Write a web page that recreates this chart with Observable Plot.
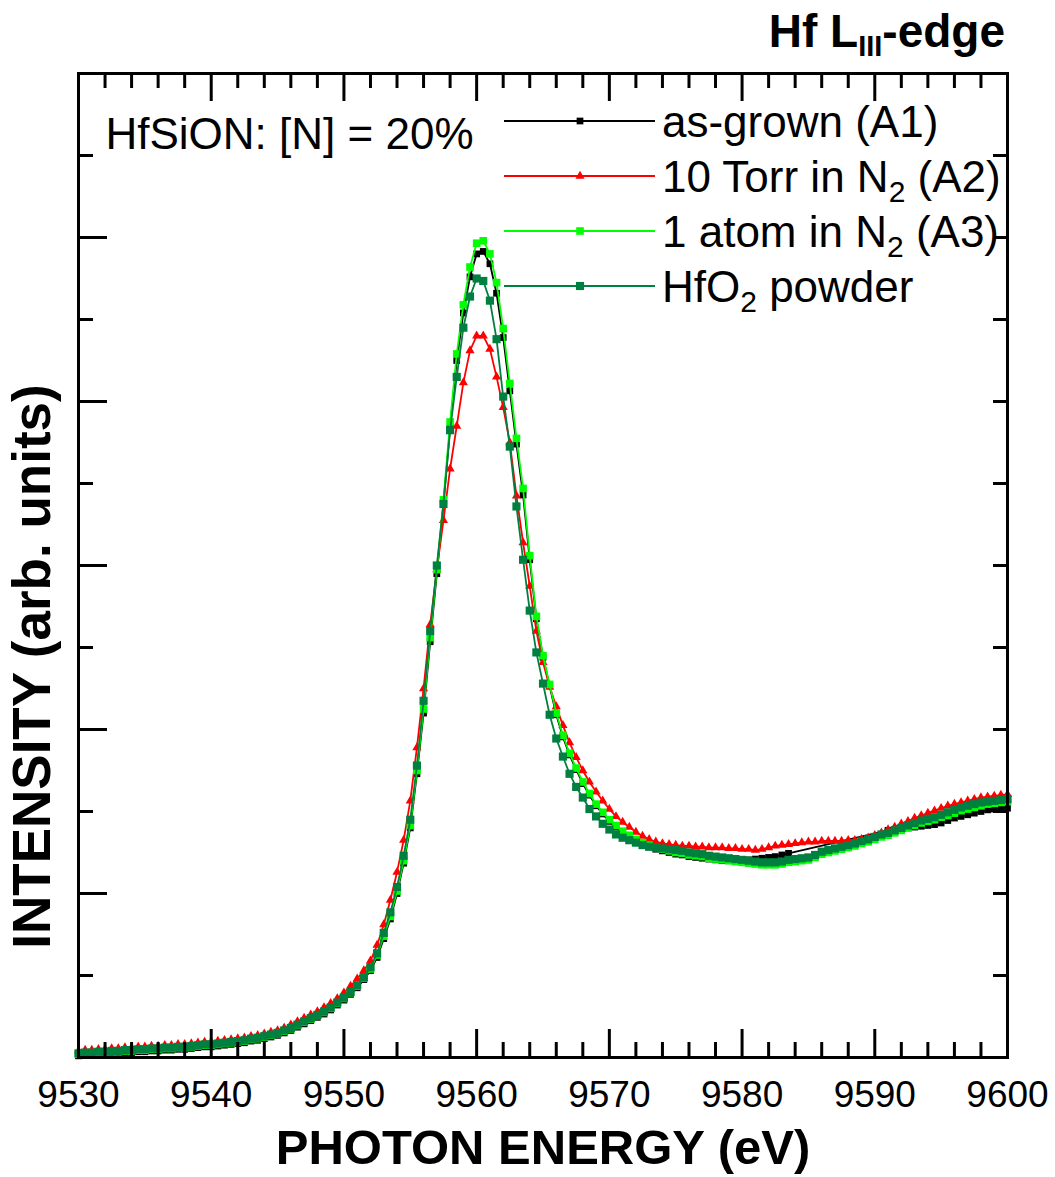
<!DOCTYPE html>
<html><head><meta charset="utf-8">
<script src="https://cdn.jsdelivr.net/npm/d3@7"></script>
<script src="https://cdn.jsdelivr.net/npm/@observablehq/plot@0.6"></script>
<style>body{margin:0;background:#fff}</style>
</head><body><div id="chart"></div>
<script>
// photon energy grid (eV)
const energy = [
9530,9530.5,9531,9531.5,9532,9532.5,9533,9533.5,9534,9534.5,
9535,9535.5,9536,9536.5,9537,9537.5,9538,9538.5,9539,9539.5,
9540,9540.5,9541,9541.5,9542,9542.5,9543,9543.5,9544,9544.5,
9545,9545.5,9546,9546.5,9547,9547.5,9548,9548.5,9549,9549.5,
9550,9550.5,9551,9551.5,9552,9552.5,9553,9553.5,9554,9554.5,
9555,9555.5,9556,9556.5,9557,9557.5,9558,9558.5,9559,9559.5,
9560,9560.5,9561,9561.5,9562,9562.5,9563,9563.5,9564,9564.5,
9565,9565.5,9566,9566.5,9567,9567.5,9568,9568.5,9569,9569.5,
9570,9570.5,9571,9571.5,9572,9572.5,9573,9573.5,9574,9574.5,
9575,9575.5,9576,9576.5,9577,9577.5,9578,9578.5,9579,9579.5,
9580,9580.5,9581,9581.5,9582,9582.5,9583,9583.5,9584,9584.5,
9585,9585.5,9586,9586.5,9587,9587.5,9588,9588.5,9589,9589.5,
9590,9590.5,9591,9591.5,9592,9592.5,9593,9593.5,9594,9594.5,
9595,9595.5,9596,9596.5,9597,9597.5,9598,9598.5,9599,9599.5,
9600];

// as-grown (A1)
const asGrown = [
.002,.003,.003,.004,.004,.005,.005,.006,.006,.007,
.007,.008,.008,.009,.009,.010,.010,.011,.012,.013,
.013,.014,.015,.016,.017,.018,.020,.021,.023,.025,
.027,.030,.033,.037,.041,.045,.049,.053,.058,.064,
.070,.077,.085,.095,.106,.122,.145,.169,.200,.237,
.280,.346,.420,.507,.590,.675,.768,.850,.908,.952,
.980,.983,.968,.932,.878,.813,.748,.686,.607,.535,
.488,.453,.418,.391,.369,.351,.334,.320,.307,.297,
.288,.281,.274,.269,.264,.260,.257,.254,.252,.250,
.248,.247,.245,.244,.243,.242,.241,.240,.240,.240,
.240,.241,.242,.243,.244,.245,.247,.249,null,null,
null,null,null,null,null,null,null,null,null,null,
null,null,.277,.278,.279,.280,.281,.282,.283,.284,
.286,.289,.292,.294,.296,.298,.300,.302,.303,.304,
.304];

// 10 Torr in N2 (A2)
const torr10 = [
.008,.009,.009,.010,.010,.011,.011,.012,.012,.013,
.013,.014,.014,.015,.015,.016,.016,.017,.018,.019,
.019,.020,.021,.022,.023,.024,.026,.027,.029,.031,
.033,.036,.040,.044,.048,.052,.056,.061,.066,.072,
.079,.087,.096,.106,.118,.137,.162,.192,.226,.265,
.313,.378,.450,.528,.595,.655,.718,.770,.823,.862,
.880,.880,.864,.830,.793,.750,.685,.628,.575,.520,
.482,.452,.428,.405,.384,.366,.350,.336,.324,.313,
.303,.294,.287,.281,.275,.270,.266,.263,.261,.260,
.259,.258,.258,.257,.257,.256,.256,.256,.255,.255,
.254,.254,.253,.254,.256,.258,.259,.260,.261,.262,
.263,.263,.264,.264,.264,.264,.265,.265,.266,.268,
.271,.274,.278,.281,.285,.288,.292,.295,.298,.301,
.304,.307,.309,.311,.313,.315,.317,.318,.319,.320,
.321];

// 1 atom in N2 (A3)
const atom1 = [
.004,.005,.005,.006,.006,.007,.007,.008,.008,.009,
.009,.010,.010,.011,.011,.012,.012,.013,.014,.015,
.015,.016,.017,.018,.019,.020,.022,.023,.025,.027,
.029,.032,.035,.039,.043,.047,.051,.055,.060,.066,
.072,.079,.087,.097,.108,.125,.148,.172,.203,.240,
.283,.350,.425,.512,.595,.680,.775,.858,.918,.964,
.993,.996,.980,.945,.889,.822,.755,.694,.612,.538,
.490,.455,.420,.393,.371,.353,.336,.322,.309,.299,
.290,.283,.276,.271,.266,.262,.259,.256,.254,.252,
.250,.249,.247,.246,.245,.243,.242,.241,.240,.239,
.238,.237,.236,.235,.235,.235,.236,.238,.239,.240,
.241,.244,.248,.250,.252,.254,.256,.258,.261,.263,
.266,.269,.271,.274,.277,.280,.283,.286,.288,.290,
.293,.295,.298,.301,.303,.305,.307,.309,.310,.311,
.312];

// HfO2 powder
const hfo2 = [
.005,.006,.006,.007,.007,.008,.008,.009,.009,.010,
.010,.011,.011,.012,.012,.013,.013,.014,.015,.016,
.016,.017,.018,.019,.020,.021,.023,.024,.026,.028,
.030,.033,.036,.040,.044,.048,.052,.056,.061,.067,
.073,.080,.088,.098,.110,.127,.152,.177,.208,.246,
.290,.356,.435,.520,.600,.675,.765,.830,.890,.928,
.950,.947,.923,.876,.806,.745,.672,.607,.545,.494,
.456,.418,.389,.367,.346,.330,.317,.303,.294,.285,
.278,.272,.268,.265,.262,.259,.257,.256,.255,.254,
.253,.252,.250,.249,.248,.246,.245,.244,.243,.242,
.241,.240,.239,.238,.238,.238,.239,.241,.242,.243,
.244,.247,.251,.253,.255,.257,.259,.261,.264,.266,
.269,.272,.274,.277,.280,.283,.286,.289,.291,.293,
.296,.299,.302,.305,.307,.309,.311,.312,.313,.314,
.315];

const xMajorTicks = [9530, 9540, 9550, 9560, 9570, 9580, 9590, 9600];
const xTickLabels = ["9530", "9540", "9550", "9560", "9570", "9580", "9590", "9600"];
const xMinorTicks = [9532,9534,9536,9538,9542,9544,9546,9548,9552,9554,9556,9558,9562,9564,9566,9568,
  9572,9574,9576,9578,9582,9584,9586,9588,9592,9594,9596,9598];
const yMajorTicks = [0, 0.2, 0.4, 0.6, 0.8, 1.0, 1.2];
const yMinorTicks = [0.1, 0.3, 0.5, 0.7, 0.9, 1.1];

const xTitle = "PHOTON ENERGY (eV)";
const yTitle = "INTENSITY (arb. units)";
const sampleNote = "HfSiON: [N] = 20%";
const titleParts = [{t: "Hf L"}, {t: "III", sub: true}, {t: "-edge"}];
const legendLabels = [
  [{t: "as-grown (A1)"}],
  [{t: "10 Torr in N"}, {t: "2", sub: true}, {t: " (A2)"}],
  [{t: "1 atom in N"}, {t: "2", sub: true}, {t: " (A3)"}],
  [{t: "HfO"}, {t: "2", sub: true}, {t: " powder"}]
];
const seriesColors = ["#000000", "#ff0000", "#00ff00", "#008040"];
const seriesSymbols = ["square", "triangle", "square", "square"];
const seriesR = [3.8, 3.4, 4.3, 4.6];
const seriesValues = [asGrown, torr10, atom1, hfo2];

const font = "'Liberation Sans', Arial, Helvetica, sans-serif";
const W = 1055, H = 1177, mL = 78, mR = 48, mT = 73, mB = 120;
const yDomain = [0, 1.2];
// convert a tick length in pixels to y units through the y extent
const pxToY = (px) => px * (yDomain[1] - yDomain[0]) / (H - mT - mB);

function rows(values) {
  return energy.map((e, i) => ({e, v: values[i]})).filter(d => d.v != null);
}

const marks = [];
seriesValues.forEach((vals, k) => {
  const d = rows(vals);
  marks.push(Plot.line(d, {x: "e", y: "v", stroke: seriesColors[k], strokeWidth: 1.8}));
  marks.push(Plot.dot(d, {x: "e", y: "v", fill: seriesColors[k], stroke: "none", symbol: seriesSymbols[k], r: seriesR[k]}));
});

const tickStyle = {stroke: "black", strokeWidth: 3, text: null, label: null};
const xTickRules = (ticks, len) => [
  Plot.ruleX(ticks, {x: d => d, y1: yDomain[0], y2: yDomain[0] + pxToY(len), stroke: "black", strokeWidth: 3}),
  Plot.ruleX(ticks, {x: d => d, y1: yDomain[1], y2: yDomain[1] - pxToY(len), stroke: "black", strokeWidth: 3})
];
marks.push(
  Plot.axisY({anchor: "left", ticks: yMajorTicks, tickSize: -29, ...tickStyle}),
  Plot.axisY({anchor: "left", ticks: yMinorTicks, tickSize: -15, ...tickStyle}),
  Plot.axisY({anchor: "right", ticks: yMajorTicks, tickSize: -15, ...tickStyle}),
  Plot.axisY({anchor: "right", ticks: yMinorTicks, tickSize: -15, ...tickStyle}),
  Plot.axisX({anchor: "bottom", ticks: xMajorTicks, tickSize: 0, tickPadding: 23, fontSize: 37,
    tickFormat: (d) => xTickLabels[xMajorTicks.indexOf(d)], fill: "black", label: null}),
  Plot.frame({stroke: "black", strokeWidth: 3}),
  ...xTickRules(xMajorTicks, 28),
  ...xTickRules(xMinorTicks, 15),
  Plot.text([xTitle], {frameAnchor: "bottom", dy: 106, fontSize: 49, fontWeight: "bold", textAnchor: "middle", lineAnchor: "bottom", fill: "black"}),
  Plot.text([yTitle], {frameAnchor: "left", rotate: -90, dx: -45, dy: 101, fontSize: 53, fontWeight: "bold", textAnchor: "middle", lineAnchor: "middle", fill: "black"}),
  Plot.text([sampleNote], {frameAnchor: "top-left", dx: 27, dy: 75, fontSize: 44, textAnchor: "start", lineAnchor: "bottom", fill: "black"})
);

const chart = Plot.plot({
  width: W, height: H,
  marginLeft: mL, marginRight: mR, marginTop: mT, marginBottom: mB,
  x: {domain: [9530, 9600], label: null},
  y: {domain: yDomain, label: null},
  style: {fontFamily: font, background: "white", color: "black", overflow: "visible"},
  marks
});
document.getElementById("chart").appendChild(chart);

const svg = d3.select(chart);
// title
const title = svg.append("text").attr("x", 1005).attr("y", 47).attr("text-anchor", "end")
  .attr("font-family", font).attr("font-size", 46).attr("font-weight", "bold").attr("fill", "black");
titleParts.forEach(p => {
  title.append("tspan").attr("font-size", p.sub ? 29 : 46).attr("dy", p.sub ? 9 : (p.t === "-edge" ? -9 : 0)).text(p.t);
});
// legend
const lg = svg.append("g").attr("font-family", font).attr("text-anchor", "start");
legendLabels.forEach((parts, i) => {
  const y = 121 + 55 * i;
  lg.append("line").attr("x1", 504).attr("x2", 655).attr("y1", y).attr("y2", y)
    .attr("stroke", seriesColors[i]).attr("stroke-width", 1.8);
  const sym = seriesSymbols[i] === "triangle" ? d3.symbolTriangle : d3.symbolSquare;
  lg.append("path").attr("transform", `translate(580,${y})`)
    .attr("d", d3.symbol(sym, seriesR[i] * seriesR[i] * Math.PI)()).attr("fill", seriesColors[i]);
  const t = lg.append("text").attr("x", 662).attr("y", y + 16).attr("font-size", 44)
    .attr("text-anchor", "start").attr("fill", "black");
  let shifted = false;
  parts.forEach(p => {
    const ts = t.append("tspan").text(p.t);
    if (p.sub) { ts.attr("font-size", 30).attr("dy", 10); shifted = true; }
    else if (shifted) { ts.attr("dy", -10); shifted = false; }
  });
});
</script>
</body></html>
